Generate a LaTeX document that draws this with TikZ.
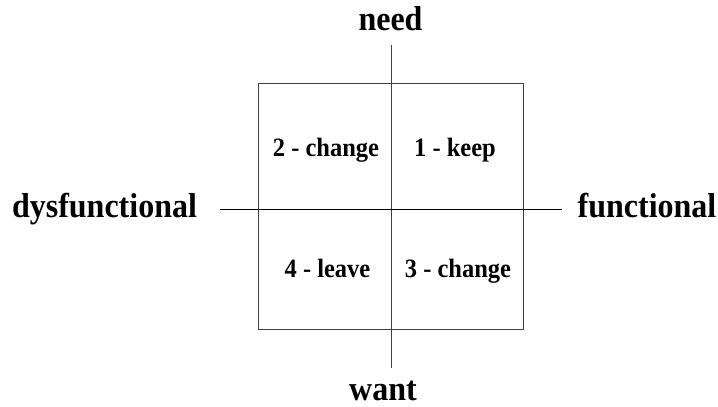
\documentclass[tikz,border=0pt]{standalone}
\usepackage{fontspec}
\setmainfont{Liberation Serif}
\begin{document}
\begin{tikzpicture}[x=1pt,y=-1pt,
  axislabel/.style={font=\fontsize{32}{36}\selectfont\bfseries, anchor=base, inner sep=0pt, yscale=1.08},
  quadlabel/.style={font=\fontsize{24.5}{28}\selectfont\bfseries, anchor=base, inner sep=0pt, yscale=1.08},
  gridline/.style={line width=1pt, draw=black!75}]
  \useasboundingbox (0,0) rectangle (718,407);
  % square of the four quadrants
  \node[gridline, draw, minimum width=265pt, minimum height=246pt, inner sep=0pt] (box) at (390.5,206) {};
  % axes
  \coordinate (top) at (391,45);
  \coordinate (bottom) at (391,368);
  \coordinate (left) at (220,209.5);
  \coordinate (right) at (562,209.5);
  \draw[gridline] (top) -- (bottom);
  \draw[line width=1pt, black] (left) -- (right);
  % axis labels
  \node[axislabel] (need) at (390.5,30) {need};
  \node[axislabel] (want) at (383,400) {want};
  \node[axislabel] (dys) at (104.5,217) {dysfunctional};
  \node[axislabel] (fun) at (647,217) {functional};
  % quadrant labels
  \node[quadlabel] (q2) at (326,156) {2 - change};
  \node[quadlabel] (q1) at (455,156) {1 - keep};
  \node[quadlabel] (q4) at (327.5,277) {4 - leave};
  \node[quadlabel] (q3) at (458,277) {3 - change};
\end{tikzpicture}
\end{document}
